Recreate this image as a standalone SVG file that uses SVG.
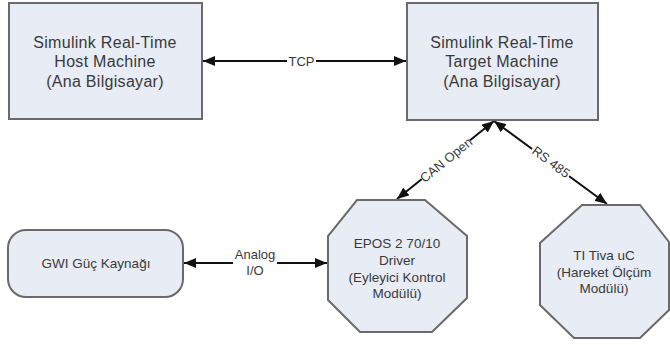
<svg xmlns="http://www.w3.org/2000/svg" width="670" height="345" viewBox="0 0 670 345">
<style>
.node{fill:#e7ecf5;stroke:#6a6a6a;stroke-width:2}
.t{font-family:"Liberation Sans",Arial,sans-serif;fill:#3a3a3a;text-anchor:middle}
.big{font-size:16px;letter-spacing:0.3px}
.sm{font-size:13.5px}
.lbl{font-family:"Liberation Sans",Arial,sans-serif;font-size:13px;fill:#3a3a3a;text-anchor:middle}
.edge{stroke:#111;stroke-width:2;fill:none;marker-start:url(#ah);marker-end:url(#ah)}
.bg{fill:#fff}
</style>
<defs>
<marker id="ah" markerUnits="userSpaceOnUse" markerWidth="13" markerHeight="10" refX="12" refY="5" orient="auto-start-reverse">
<path d="M0,0 L12,5 L0,10 z" fill="#111"/>
</marker>
</defs>
<rect width="670" height="345" fill="#fff"/>
<g id="connectors">
<line class="edge" x1="203" y1="61" x2="406" y2="61"/>
<rect class="bg" x="287" y="53" width="29" height="15"/>
<text class="lbl" x="301.5" y="65.5">TCP</text>
<line class="edge" x1="494" y1="121" x2="397" y2="199"/>
<g transform="translate(446,160) rotate(-39)">
<rect class="bg" x="-31" y="-7" width="62" height="14"/>
<text class="lbl" x="0" y="4.5">CAN Open</text>
</g>
<line class="edge" x1="494" y1="121" x2="607" y2="204"/>
<g transform="translate(551,162) rotate(36.5)">
<rect class="bg" x="-23" y="-7" width="46" height="14"/>
<text class="lbl" x="0" y="4.5">RS 485</text>
</g>
<line class="edge" x1="184" y1="263" x2="327" y2="263"/>
<rect class="bg" x="233" y="246" width="44" height="32"/>
<text class="lbl" x="255" y="259">Analog</text>
<text class="lbl" x="255" y="275">I/O</text>
</g>
<g id="host">
<rect class="node" x="9" y="3" width="193" height="116"/>
<text class="t big" x="105" y="47.5">Simulink Real-Time</text>
<text class="t big" x="105" y="67">Host Machine</text>
<text class="t big" x="105" y="86.5">(Ana Bilgisayar)</text>
</g>
<g id="target">
<rect class="node" x="407" y="3" width="191" height="117"/>
<text class="t big" x="502" y="47.5">Simulink Real-Time</text>
<text class="t big" x="502" y="67">Target Machine</text>
<text class="t big" x="502" y="86.5">(Ana Bilgisayar)</text>
</g>
<g id="gwi">
<rect class="node" x="8" y="230" width="175" height="67" rx="18" ry="18"/>
<text class="t sm" x="96" y="268">GWI Güç Kaynağı</text>
</g>
<g id="epos">
<polygon class="node" points="357,200 425,200 467,236 467,298 432,332 360,332 328,300 328,236"/>
<text class="t sm" x="397" y="248">EPOS 2 70/10</text>
<text class="t sm" x="397" y="265">Driver</text>
<text class="t sm" x="397" y="282">(Eyleyici Kontrol</text>
<text class="t sm" x="397" y="298">Modülü)</text>
</g>
<g id="tiva">
<polygon class="node" points="582,205 640,205 669,242 669,310 640,338 574,338 540,305 540,243"/>
<text class="t sm" x="604" y="260">TI Tiva uC</text>
<text class="t sm" x="604" y="277">(Hareket Ölçüm</text>
<text class="t sm" x="604" y="293">Modülü)</text>
</g>
</svg>
